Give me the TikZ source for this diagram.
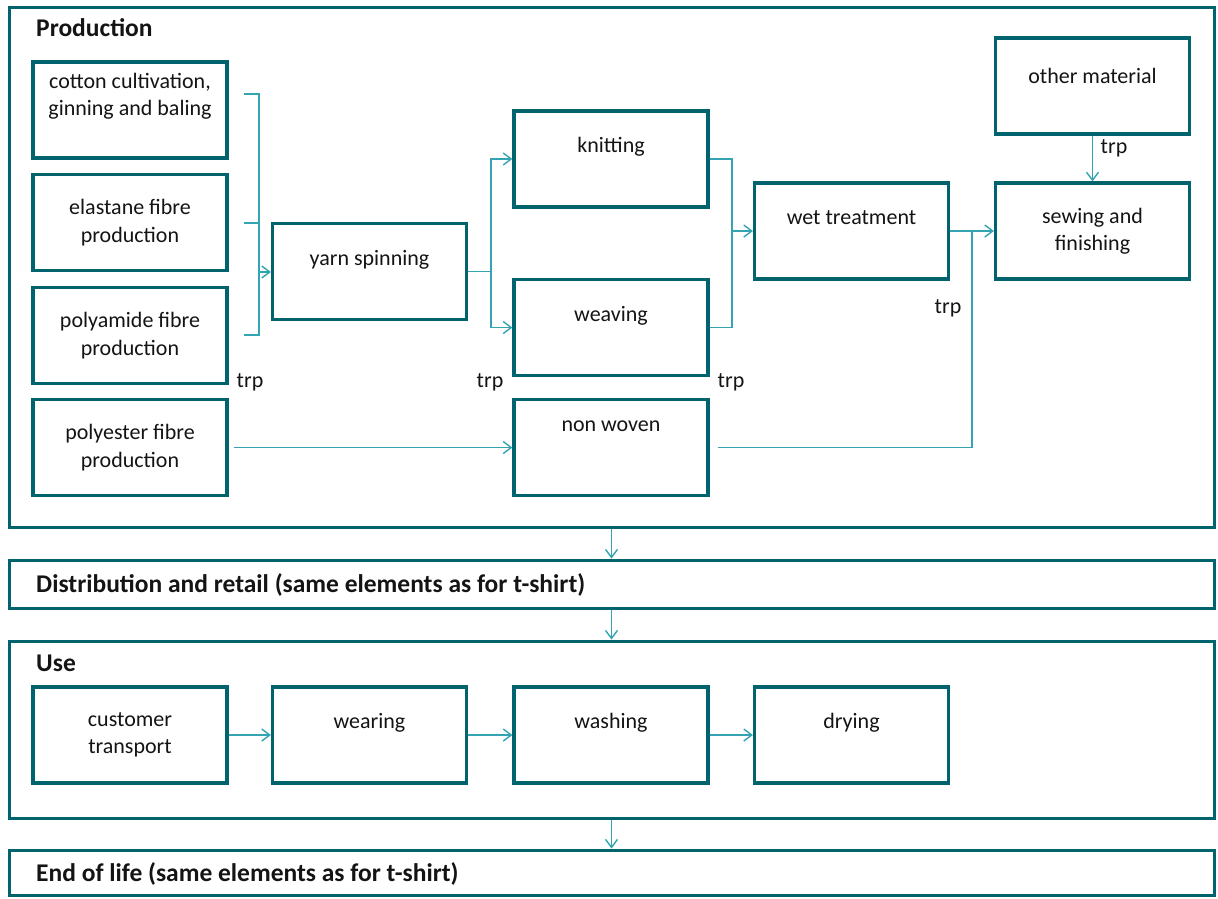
\documentclass[tikz,border=0pt]{standalone}
\usepackage{fontspec}
\setmainfont{Carlito}
\usepackage{tikz}
\usetikzlibrary{arrows.meta,positioning}

\definecolor{frame}{RGB}{0,99,110}
\definecolor{flow}{RGB}{52,163,178}
\definecolor{ink}{RGB}{20,20,20}

\tikzset{
  procbox/.style={draw=frame, line width=3.2pt, minimum width=194pt, minimum height=96pt,
    align=center, inner sep=0pt, text=ink},
  stage/.style={draw=frame, line width=3pt, minimum width=1205pt, inner sep=0pt},
  stagetitle/.style={font=\fontsize{25.5}{30}\selectfont\bfseries, anchor=west, inner sep=0pt, text=ink},
  flowline/.style={draw=flow, line width=1.4pt},
  trplabel/.style={inner sep=0pt, text=ink},
}

\begin{document}
\begin{tikzpicture}[x=1pt, y=-1pt, font=\fontsize{22}{27.5}\selectfont,
    >={Straight Barb[length=8pt,width=12pt]}]
  \useasboundingbox (0,0) rectangle (1218,898);

  % life cycle stages
  \node[stage, minimum height=520pt] (prod) at (611.5,267) {};
  \node[stage, minimum height=48pt] (distr) at (611.5,584) {};
  \node[stage, minimum height=177pt] (use) at (611.5,729.5) {};
  \node[stage, minimum height=45pt] (eol) at (611.5,872.5) {};
  \node[stagetitle] (prod-t) at (36,28) {Production};
  \node[stagetitle] (distr-t) at (36,585) {Distribution and retail (same elements as for t-shirt)};
  \node[stagetitle] (use-t) at (36,663) {Use};
  \node[stagetitle] (eol-t) at (36,874) {End of life (same elements as for t-shirt)};
  \draw[flowline,->] (prod) -- (distr);
  \draw[flowline,->] (distr) -- (use);
  \draw[flowline,->] (use) -- (eol);

  % production
  \node[procbox] (cotton) at (130,110) {cotton cultivation,\\ginning and baling\\[-4pt]\strut};
  \node[procbox] (elastane) at (130,222.5) {elastane fibre\\production};
  \node[procbox] (polyamide) at (130,335.5) {polyamide fibre\\production};
  \node[procbox] (polyester) at (130,447.5) {polyester fibre\\production};
  \node[procbox] (yarn) at (369.5,271.5) {yarn spinning\\\mbox{}};
  \node[procbox] (knitting) at (611,159) {knitting\\\mbox{}};
  \node[procbox] (weaving) at (611,327.5) {weaving\\\mbox{}};
  \node[procbox] (nonwoven) at (611,447.5) {non woven\\\mbox{}\\[-12pt]\mbox{}};
  \node[procbox] (wet) at (851.5,231) {wet treatment\\\mbox{}};
  \node[procbox] (other) at (1092.5,86) {other material\\[-8pt]\mbox{}};
  \node[procbox] (sewing) at (1092.5,231) {sewing and\\finishing};

  \node[trplabel] (trp1) at (250,382) {trp};
  \node[trplabel] (trp2) at (490,382) {trp};
  \node[trplabel] (trp3) at (731,382) {trp};
  \node[trplabel] (trp4) at (948,308) {trp};
  \node[trplabel] (trp5) at (1114,148) {trp};

  \coordinate (fibre-top) at (244,94);
  \coordinate (fibre-mid) at (244,223);
  \coordinate (fibre-bot) at (244,335);
  \coordinate (fibre-join) at (259,272);
  \draw[flowline] (fibre-top) -| (fibre-join |- fibre-bot) -- (fibre-bot);
  \draw[flowline] (fibre-mid) -- (fibre-mid -| fibre-join);
  \draw[flowline,->] (fibre-join) -- (fibre-join -| yarn.west);

  \coordinate (yarn-fork) at (491,271.5);
  \draw[flowline] (yarn.east) -- (yarn-fork);
  \draw[flowline,->] (yarn-fork) |- (knitting.west);
  \draw[flowline,->] (yarn-fork) |- (weaving.west);

  \coordinate (fabric-join) at (732,231);
  \draw[flowline] (knitting.east) -| (fabric-join) |- (weaving.east);
  \draw[flowline,->] (fabric-join) -- (wet.west);

  \coordinate (sew-join) at (972,231);
  \draw[flowline,->] (wet) -- (sewing);
  \draw[flowline] ([xshift=8pt]nonwoven.east) -| (sew-join);
  \draw[flowline,->,shorten <=5pt] (polyester) -- (nonwoven);
  \draw[flowline,->] (other) -- (sewing);

  % use
  \node[procbox] (customer) at (130,735) {customer\\transport};
  \node[procbox] (wearing) at (369.5,735) {wearing\\\mbox{}};
  \node[procbox] (washing) at (611,735) {washing\\\mbox{}};
  \node[procbox] (drying) at (851.5,735) {drying\\\mbox{}};
  \draw[flowline,->] (customer) -- (wearing);
  \draw[flowline,->] (wearing) -- (washing);
  \draw[flowline,->] (washing) -- (drying);
\end{tikzpicture}
\end{document}
